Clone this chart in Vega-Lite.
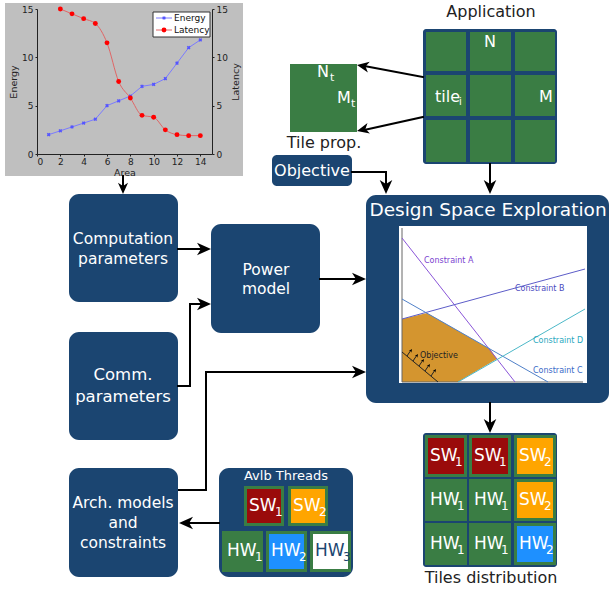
{
"$schema": "https://vega.github.io/schema/vega-lite/v6.json",
"width": 610, "height": 593, "autosize": "none", "padding": 0, "background": "white",
"config": {"view": {"stroke": null}, "text": {"font": "DejaVu Sans"}, "axis": {"labelFont": "DejaVu Sans", "titleFont": "DejaVu Sans"}},
"resolve": {"scale": {"x": "independent", "y": "independent"}},
"layer": [
{
 "encoding": {
  "x": {"field": "x", "type": "quantitative", "scale": {"domain": [0, 610], "nice": false, "zero": false}, "axis": null},
  "y": {"field": "y", "type": "quantitative", "scale": {"domain": [0, 593], "nice": false, "zero": false, "reverse": true}, "axis": null}
 },
 "layer": [
  {"data": {"values": [
    {"x": 69, "x2": 178, "y": 194, "y2": 302},
    {"x": 211, "x2": 320, "y": 224, "y2": 333},
    {"x": 69, "x2": 178, "y": 332, "y2": 440},
    {"x": 69, "x2": 178, "y": 468, "y2": 577},
    {"x": 219, "x2": 353, "y": 468, "y2": 577},
    {"x": 366, "x2": 609, "y": 195, "y2": 403}]},
   "mark": {"type": "rect", "cornerRadius": 10, "color": "#1b4571"},
   "encoding": {"x2": {"field": "x2"}, "y2": {"field": "y2"}}},
  {"data": {"values": [{"x": 272, "x2": 352, "y": 155, "y2": 186}]},
   "mark": {"type": "rect", "cornerRadius": 5, "color": "#1b4571"},
   "encoding": {"x2": {"field": "x2"}, "y2": {"field": "y2"}}},
  {"data": {"values": [{"x": 423, "x2": 557, "y": 29, "y2": 164}, {"x": 423, "x2": 557, "y": 433, "y2": 567}]},
   "mark": {"type": "rect", "cornerRadius": 3, "color": "#1b4571"},
   "encoding": {"x2": {"field": "x2"}, "y2": {"field": "y2"}}},
  {"data": {"values": [
    {"x": 5, "x2": 243, "y": 3, "y2": 176, "c": "#bfbfbf"},
    {"x": 399, "x2": 587, "y": 226, "y2": 383, "c": "white"},
    {"x": 290, "x2": 357, "y": 64, "y2": 132, "c": "#3a7d44"},
    {"x": 426, "x2": 466, "y": 32, "y2": 71, "c": "#3a7d44"},
    {"x": 470, "x2": 511, "y": 32, "y2": 71, "c": "#3a7d44"},
    {"x": 515, "x2": 555, "y": 32, "y2": 71, "c": "#3a7d44"},
    {"x": 426, "x2": 466, "y": 75, "y2": 116, "c": "#3a7d44"},
    {"x": 470, "x2": 511, "y": 75, "y2": 116, "c": "#3a7d44"},
    {"x": 515, "x2": 555, "y": 75, "y2": 116, "c": "#3a7d44"},
    {"x": 426, "x2": 466, "y": 120, "y2": 162, "c": "#3a7d44"},
    {"x": 470, "x2": 511, "y": 120, "y2": 162, "c": "#3a7d44"},
    {"x": 515, "x2": 555, "y": 120, "y2": 162, "c": "#3a7d44"},
    {"x": 425, "x2": 467, "y": 435, "y2": 477, "c": "#3a7d44"},
    {"x": 469, "x2": 511, "y": 435, "y2": 477, "c": "#3a7d44"},
    {"x": 514, "x2": 556, "y": 435, "y2": 477, "c": "#3a7d44"},
    {"x": 425, "x2": 467, "y": 479, "y2": 521, "c": "#3a7d44"},
    {"x": 469, "x2": 511, "y": 479, "y2": 521, "c": "#3a7d44"},
    {"x": 514, "x2": 556, "y": 479, "y2": 521, "c": "#3a7d44"},
    {"x": 425, "x2": 467, "y": 523, "y2": 565, "c": "#3a7d44"},
    {"x": 469, "x2": 511, "y": 523, "y2": 565, "c": "#3a7d44"},
    {"x": 514, "x2": 556, "y": 523, "y2": 565, "c": "#3a7d44"},
    {"x": 428, "x2": 464, "y": 438, "y2": 474, "c": "#9a0b0b"},
    {"x": 472, "x2": 508, "y": 438, "y2": 474, "c": "#9a0b0b"},
    {"x": 517, "x2": 553, "y": 438, "y2": 474, "c": "#ffa500"},
    {"x": 517, "x2": 553, "y": 482, "y2": 518, "c": "#ffa500"},
    {"x": 517, "x2": 553, "y": 526, "y2": 562, "c": "#1e90ff"},
    {"x": 244, "x2": 284, "y": 486, "y2": 526, "c": "#3a7d44"},
    {"x": 288, "x2": 328, "y": 486, "y2": 526, "c": "#3a7d44"},
    {"x": 222, "x2": 263, "y": 531, "y2": 572, "c": "#3a7d44"},
    {"x": 266, "x2": 307, "y": 531, "y2": 572, "c": "#3a7d44"},
    {"x": 310, "x2": 351, "y": 531, "y2": 572, "c": "#3a7d44"},
    {"x": 247, "x2": 281, "y": 489, "y2": 523, "c": "#9a0b0b"},
    {"x": 291, "x2": 325, "y": 489, "y2": 523, "c": "#ffa500"},
    {"x": 269, "x2": 304, "y": 534, "y2": 569, "c": "#1e90ff"},
    {"x": 313, "x2": 348, "y": 534, "y2": 569, "c": "white"}]},
   "mark": {"type": "rect"},
   "encoding": {"x2": {"field": "x2"}, "y2": {"field": "y2"}, "color": {"field": "c", "type": "nominal", "scale": null}}},
  {"data": {"values": [
    {"x": 402, "y": 319, "y2": 382},
    {"x": 427, "y": 313, "y2": 382},
    {"x": 458, "y": 330.7, "y2": 382},
    {"x": 490, "y": 349, "y2": 363.1},
    {"x": 497, "y": 359, "y2": 359}]},
   "mark": {"type": "area", "color": "#d4952f", "opacity": 1},
   "encoding": {"y2": {"field": "y2"}}},
  {"data": {"values": [
    {"x": 402, "y": 228, "x2": 402, "y2": 382, "c": "#666666"},
    {"x": 402, "y": 382, "x2": 583, "y2": 382, "c": "#666666"},
    {"x": 402, "y": 238, "x2": 515, "y2": 382, "c": "#8a55d8"},
    {"x": 402, "y": 319, "x2": 585, "y2": 269, "c": "#5c5cc8"},
    {"x": 402, "y": 299, "x2": 548, "y2": 382, "c": "#5080c8"},
    {"x": 458, "y": 382, "x2": 585, "y2": 309, "c": "#4cb8c8"},
    {"x": 402, "y": 352, "x2": 438, "y2": 382, "c": "#222222"},
    {"x": 407, "y": 356, "x2": 411, "y2": 350, "c": "#222222"},
    {"x": 413, "y": 361, "x2": 417, "y2": 355, "c": "#222222"},
    {"x": 419, "y": 366, "x2": 423, "y2": 360, "c": "#222222"},
    {"x": 425, "y": 371, "x2": 429, "y2": 365, "c": "#222222"},
    {"x": 431, "y": 376, "x2": 435, "y2": 370, "c": "#222222"}]},
   "mark": {"type": "rule", "strokeWidth": 1},
   "encoding": {"x2": {"field": "x2"}, "y2": {"field": "y2"}, "color": {"field": "c", "type": "nominal", "scale": null}}},
  {"data": {"values": [
    {"x": 123, "y": 176, "x2": 123, "y2": 188},
    {"x": 178, "y": 249, "x2": 204, "y2": 249},
    {"x": 178, "y": 386, "x2": 190, "y2": 386},
    {"x": 190, "y": 386, "x2": 190, "y2": 304},
    {"x": 190, "y": 304, "x2": 204, "y2": 304},
    {"x": 320, "y": 279, "x2": 358, "y2": 279},
    {"x": 179, "y": 490, "x2": 206, "y2": 490},
    {"x": 206, "y": 490, "x2": 206, "y2": 372},
    {"x": 206, "y": 372, "x2": 358, "y2": 372},
    {"x": 219, "y": 523, "x2": 186, "y2": 523},
    {"x": 352, "y": 172, "x2": 386, "y2": 172},
    {"x": 386, "y": 172, "x2": 386, "y2": 187},
    {"x": 490, "y": 164, "x2": 490, "y2": 187},
    {"x": 490, "y": 403, "x2": 490, "y2": 426},
    {"x": 423, "y": 77, "x2": 364, "y2": 66},
    {"x": 423, "y": 117, "x2": 364, "y2": 130}]},
   "mark": {"type": "rule", "strokeWidth": 2, "color": "black", "strokeCap": "square"},
   "encoding": {"x2": {"field": "x2"}, "y2": {"field": "y2"}}},
  {"data": {"values": [
    {"x": 123, "y": 194, "a": 180, "s": 500},
    {"x": 211, "y": 249, "a": 90, "s": 784},
    {"x": 211, "y": 304, "a": 90, "s": 784},
    {"x": 366, "y": 279, "a": 90, "s": 784},
    {"x": 366, "y": 372, "a": 90, "s": 784},
    {"x": 179, "y": 523, "a": 270, "s": 784},
    {"x": 386, "y": 194, "a": 180, "s": 784},
    {"x": 490, "y": 194, "a": 180, "s": 784},
    {"x": 490, "y": 433, "a": 180, "s": 784},
    {"x": 357, "y": 65, "a": 280, "s": 576},
    {"x": 357, "y": 131, "a": 257, "s": 576},
    {"x": 412, "y": 349, "a": 34, "s": 49},
    {"x": 418, "y": 354, "a": 34, "s": 49},
    {"x": 424, "y": 359, "a": 34, "s": 49},
    {"x": 430, "y": 364, "a": 34, "s": 49},
    {"x": 436, "y": 369, "a": 34, "s": 49}]},
   "mark": {"type": "point", "shape": "M0,0L0.45,1L0,0.72L-0.45,1Z", "filled": true, "color": "black", "opacity": 1, "strokeWidth": 0},
   "encoding": {"angle": {"field": "a", "type": "quantitative", "scale": null}, "size": {"field": "s", "type": "quantitative", "scale": null}}},
  {"data": {"values": [
    {"x": 491, "y": 12, "t": "Application", "s": 16, "c": "#222222"},
    {"x": 324, "y": 143, "t": "Tile prop.", "s": 16, "c": "#222222"},
    {"x": 491, "y": 578, "t": "Tiles distribution", "s": 16, "c": "#222222"},
    {"x": 312, "y": 171, "t": "Objective", "s": 16, "c": "white"},
    {"x": 488, "y": 210, "t": "Design Space Exploration", "s": 18.5, "c": "white"},
    {"x": 123, "y": 239, "t": "Computation", "s": 15.5, "c": "white"},
    {"x": 123, "y": 259, "t": "parameters", "s": 15.5, "c": "white"},
    {"x": 266, "y": 270, "t": "Power", "s": 15.5, "c": "white"},
    {"x": 266, "y": 289, "t": "model", "s": 15.5, "c": "white"},
    {"x": 123, "y": 375, "t": "Comm.", "s": 16.5, "c": "white"},
    {"x": 123, "y": 397, "t": "parameters", "s": 16.5, "c": "white"},
    {"x": 123, "y": 503, "t": "Arch. models", "s": 15.5, "c": "white"},
    {"x": 123, "y": 523, "t": "and", "s": 15.5, "c": "white"},
    {"x": 123, "y": 543, "t": "constraints", "s": 15.5, "c": "white"},
    {"x": 286, "y": 476, "t": "Avlb Threads", "s": 13, "c": "white"},
    {"x": 490, "y": 42, "t": "N", "s": 16, "c": "white"},
    {"x": 546, "y": 97, "t": "M", "s": 16, "c": "white"}]},
   "mark": {"type": "text", "align": "center", "baseline": "middle", "font": "DejaVu Sans"},
   "encoding": {"text": {"field": "t"}, "size": {"field": "s", "type": "quantitative", "scale": null}, "color": {"field": "c", "type": "nominal", "scale": null}}},
  {"data": {"values": [
    {"x": 435, "y": 97, "t": "tile", "s": 16, "c": "white"},
    {"x": 459, "y": 102, "t": "i", "s": 10, "c": "white"},
    {"x": 317, "y": 72, "t": "N", "s": 16, "c": "white"},
    {"x": 330, "y": 78, "t": "t", "s": 11, "c": "white"},
    {"x": 337, "y": 98, "t": "M", "s": 16, "c": "white"},
    {"x": 351, "y": 104, "t": "t", "s": 11, "c": "white"},
    {"x": 430, "y": 456, "t": "SW", "s": 17, "c": "white"},
    {"x": 455, "y": 462, "t": "1", "s": 12, "c": "white"},
    {"x": 474, "y": 456, "t": "SW", "s": 17, "c": "white"},
    {"x": 499, "y": 462, "t": "1", "s": 12, "c": "white"},
    {"x": 519, "y": 456, "t": "SW", "s": 17, "c": "white"},
    {"x": 544, "y": 462, "t": "2", "s": 12, "c": "white"},
    {"x": 430, "y": 500, "t": "HW", "s": 17, "c": "white"},
    {"x": 457, "y": 506, "t": "1", "s": 12, "c": "white"},
    {"x": 474, "y": 500, "t": "HW", "s": 17, "c": "white"},
    {"x": 501, "y": 506, "t": "1", "s": 12, "c": "white"},
    {"x": 519, "y": 500, "t": "SW", "s": 17, "c": "white"},
    {"x": 544, "y": 506, "t": "2", "s": 12, "c": "white"},
    {"x": 430, "y": 544, "t": "HW", "s": 17, "c": "white"},
    {"x": 457, "y": 550, "t": "1", "s": 12, "c": "white"},
    {"x": 474, "y": 544, "t": "HW", "s": 17, "c": "white"},
    {"x": 501, "y": 550, "t": "1", "s": 12, "c": "white"},
    {"x": 519, "y": 544, "t": "HW", "s": 17, "c": "white"},
    {"x": 546, "y": 550, "t": "2", "s": 12, "c": "white"},
    {"x": 249, "y": 506, "t": "SW", "s": 17, "c": "white"},
    {"x": 275, "y": 512, "t": "1", "s": 12, "c": "white"},
    {"x": 293, "y": 506, "t": "SW", "s": 17, "c": "white"},
    {"x": 319, "y": 512, "t": "2", "s": 12, "c": "white"},
    {"x": 227, "y": 551, "t": "HW", "s": 17, "c": "white"},
    {"x": 255, "y": 557, "t": "1", "s": 12, "c": "white"},
    {"x": 271, "y": 551, "t": "HW", "s": 17, "c": "white"},
    {"x": 299, "y": 557, "t": "2", "s": 12, "c": "white"},
    {"x": 315, "y": 551, "t": "HW", "s": 17, "c": "#1b4571"},
    {"x": 343, "y": 557, "t": "3", "s": 12, "c": "#1b4571"},
    {"x": 424, "y": 261, "t": "Constraint A", "s": 8, "c": "#7a3fd0"},
    {"x": 515, "y": 289, "t": "Constraint B", "s": 8, "c": "#4a4ac0"},
    {"x": 533, "y": 341, "t": "Constraint D", "s": 8, "c": "#2aa8c0"},
    {"x": 533, "y": 371, "t": "Constraint C", "s": 8, "c": "#3a6ac8"},
    {"x": 420, "y": 356, "t": "Objective", "s": 8, "c": "#222222"}]},
   "mark": {"type": "text", "align": "left", "baseline": "middle", "font": "DejaVu Sans"},
   "encoding": {"text": {"field": "t"}, "size": {"field": "s", "type": "quantitative", "scale": null}, "color": {"field": "c", "type": "nominal", "scale": null}}}
 ]
},
{
 "resolve": {"scale": {"y": "independent"}},
 "layer": [
  {"data": {"values": [
    {"area": 1, "energy": 2}, {"area": 2, "energy": 2.4}, {"area": 3, "energy": 2.8}, {"area": 4, "energy": 3.2},
    {"area": 5, "energy": 3.6}, {"area": 6, "energy": 5}, {"area": 7, "energy": 5.5}, {"area": 8, "energy": 6},
    {"area": 9, "energy": 7}, {"area": 10, "energy": 7.2}, {"area": 11, "energy": 7.8}, {"area": 12, "energy": 9.4},
    {"area": 13, "energy": 11}, {"area": 14, "energy": 11.8}]},
   "encoding": {
    "x": {"field": "area", "type": "quantitative", "scale": {"domain": [0, 15], "range": [37, 212], "nice": false, "zero": false},
          "axis": {"orient": "bottom", "offset": -439, "zindex": 1, "values": [0, 2, 4, 6, 8, 10, 12, 14], "title": "Area", "labelFontSize": 9, "titleFontSize": 9.5, "titleFontWeight": "normal", "titlePadding": 1, "labelPadding": 1, "tickSize": 2, "domainColor": "#222222", "tickColor": "#222222", "labelColor": "#222222", "titleColor": "#222222", "grid": false}},
    "y": {"field": "energy", "type": "quantitative", "scale": {"domain": [0, 15], "range": [154, 9], "nice": false, "zero": false},
          "axis": {"orient": "left", "offset": -37, "zindex": 1, "values": [0, 5, 10, 15], "title": "Energy", "labelFontSize": 9, "titleFontSize": 9.5, "titleFontWeight": "normal", "titlePadding": 3, "labelPadding": 2, "tickSize": 2, "domainColor": "#222222", "tickColor": "#222222", "labelColor": "#222222", "titleColor": "#222222", "grid": false}}
   },
   "layer": [
    {"mark": {"type": "line", "color": "#7b7bff", "strokeWidth": 1}},
    {"mark": {"type": "point", "shape": "cross", "angle": 45, "filled": true, "size": 14, "color": "#5555ff", "opacity": 1}}
   ]},
  {"data": {"values": [
    {"area": 2, "latency": 15}, {"area": 3, "latency": 14.5}, {"area": 4, "latency": 14}, {"area": 5, "latency": 13.5},
    {"area": 6, "latency": 11.5}, {"area": 7, "latency": 7.5}, {"area": 8, "latency": 5.8}, {"area": 9, "latency": 4},
    {"area": 10, "latency": 3.8}, {"area": 11, "latency": 2.5}, {"area": 12, "latency": 2}, {"area": 13, "latency": 1.9},
    {"area": 14, "latency": 1.9}]},
   "encoding": {
    "x": {"field": "area", "type": "quantitative", "scale": {"domain": [0, 15], "range": [37, 212], "nice": false, "zero": false},
          "axis": {"orient": "bottom", "offset": -439, "zindex": 1, "values": [0, 2, 4, 6, 8, 10, 12, 14], "title": "Area", "labelFontSize": 9, "titleFontSize": 9.5, "titleFontWeight": "normal", "titlePadding": 1, "labelPadding": 1, "tickSize": 2, "domainColor": "#222222", "tickColor": "#222222", "labelColor": "#222222", "titleColor": "#222222", "grid": false}},
    "y": {"field": "latency", "type": "quantitative", "scale": {"domain": [0, 15], "range": [154, 9], "nice": false, "zero": false},
          "axis": {"orient": "right", "offset": -398, "zindex": 1, "values": [0, 5, 10, 15], "title": "Latency", "titleAngle": 270, "titleBaseline": "top", "labelFontSize": 9, "titleFontSize": 9.5, "titleFontWeight": "normal", "titlePadding": 3, "labelPadding": 2, "tickSize": 2, "domainColor": "#222222", "tickColor": "#222222", "labelColor": "#222222", "titleColor": "#222222", "grid": false}}
   },
   "layer": [
    {"mark": {"type": "line", "color": "#e06666", "strokeWidth": 1, "interpolate": "monotone"}},
    {"mark": {"type": "circle", "size": 24, "color": "#ff0000", "opacity": 1}}
   ]}
 ]
},
{
 "encoding": {
  "x": {"field": "x", "type": "quantitative", "scale": {"domain": [0, 610], "nice": false, "zero": false}, "axis": null},
  "y": {"field": "y", "type": "quantitative", "scale": {"domain": [0, 593], "nice": false, "zero": false, "reverse": true}, "axis": null}
 },
 "layer": [
  {"data": {"values": [{"x": 153, "x2": 210, "y": 12, "y2": 37}]},
   "mark": {"type": "rect", "color": "white", "stroke": "#333333", "strokeWidth": 1},
   "encoding": {"x2": {"field": "x2"}, "y2": {"field": "y2"}}},
  {"data": {"values": [{"x": 156, "x2": 172, "y": 18, "y2": 18, "c": "#7b7bff"}, {"x": 156, "x2": 172, "y": 30, "y2": 30, "c": "#e06666"}]},
   "mark": {"type": "rule", "strokeWidth": 1},
   "encoding": {"x2": {"field": "x2"}, "y2": {"field": "y2"}, "color": {"field": "c", "type": "nominal", "scale": null}}},
  {"data": {"values": [{"x": 164, "y": 18}]},
   "mark": {"type": "point", "shape": "cross", "angle": 45, "filled": true, "size": 14, "color": "#5555ff", "opacity": 1}},
  {"data": {"values": [{"x": 164, "y": 30}]},
   "mark": {"type": "circle", "size": 24, "color": "#ff0000", "opacity": 1}},
  {"data": {"values": [{"x": 174, "y": 18, "t": "Energy"}, {"x": 174, "y": 30, "t": "Latency"}]},
   "mark": {"type": "text", "align": "left", "baseline": "middle", "font": "DejaVu Sans", "fontSize": 9, "color": "#111111"},
   "encoding": {"text": {"field": "t"}}}
 ]
}
]
}
